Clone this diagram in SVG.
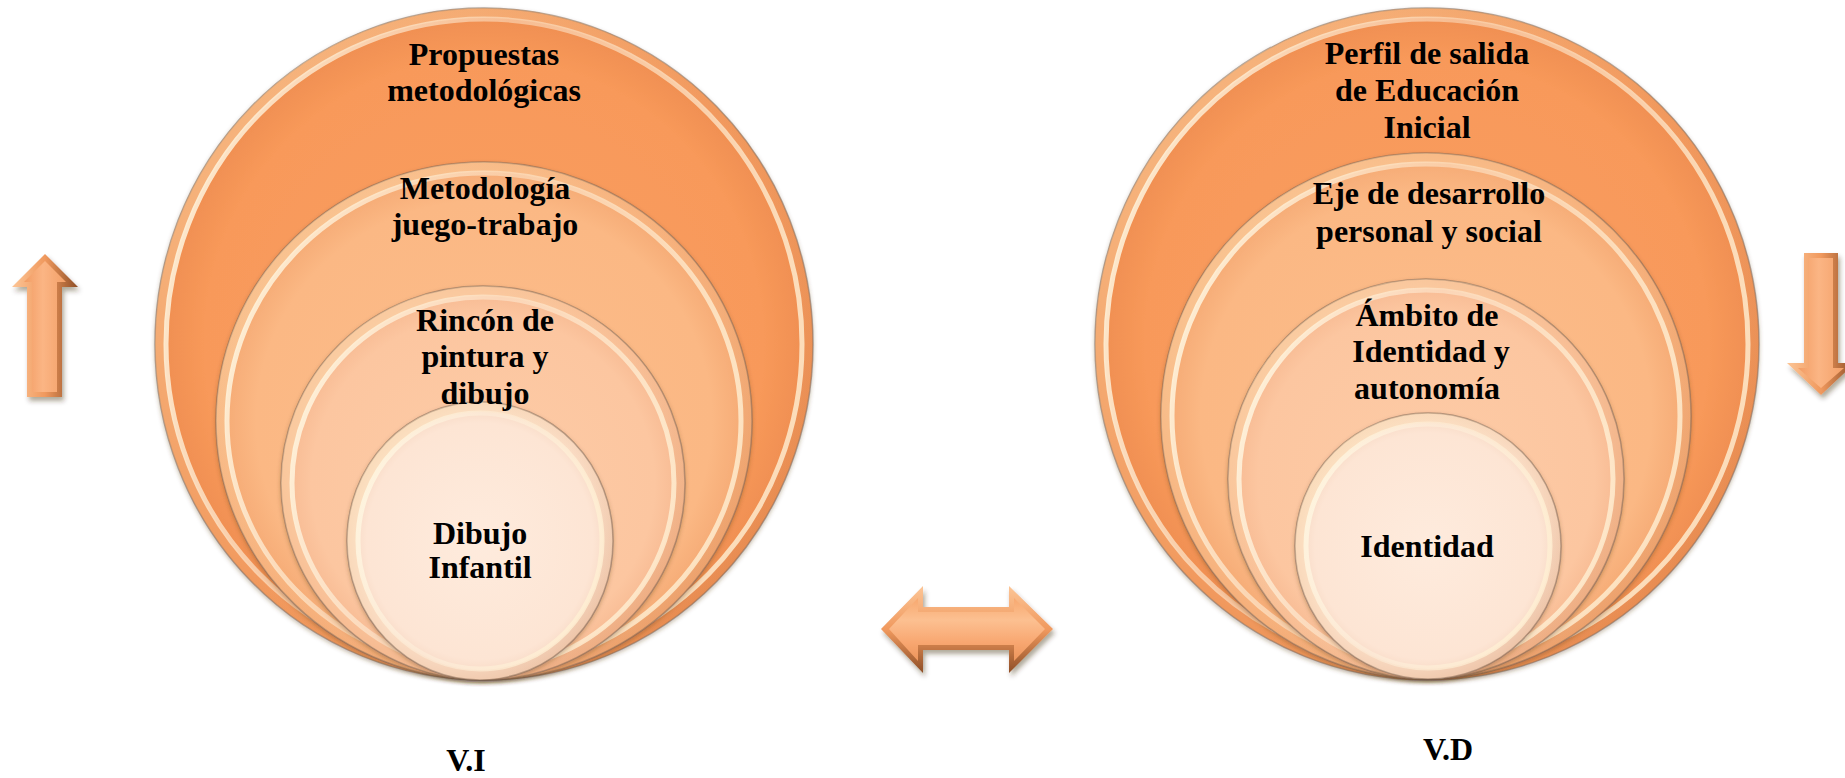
<svg xmlns="http://www.w3.org/2000/svg" width="1845" height="778" viewBox="0 0 1845 778">
<style>
.t{font-family:"Liberation Serif","Times New Roman",serif;font-weight:bold;font-size:32px;fill:#000;text-anchor:middle}
.edge{stroke:#7a6455;stroke-opacity:.55;stroke-width:1.5}
.ring{fill:none;stroke:url(#ringG);stroke-width:5}
.rim{fill:none;stroke:url(#rimG);stroke-width:10}
</style>
<defs>
<radialGradient id="g1" cx="50%" cy="50%" r="50%"><stop offset="0" stop-color="#F99E60"/><stop offset="0.85" stop-color="#F8995A"/><stop offset="1" stop-color="#EE8D50"/></radialGradient>
<radialGradient id="g2" cx="50%" cy="50%" r="50%"><stop offset="0" stop-color="#FCBC8A"/><stop offset="0.85" stop-color="#FBB884"/><stop offset="1" stop-color="#F4A872"/></radialGradient>
<radialGradient id="g3" cx="50%" cy="50%" r="50%"><stop offset="0" stop-color="#FDCBA6"/><stop offset="0.85" stop-color="#FCC6A0"/><stop offset="1" stop-color="#F6B890"/></radialGradient>
<radialGradient id="g4" cx="50%" cy="50%" r="50%"><stop offset="0" stop-color="#FEEBDD"/><stop offset="0.85" stop-color="#FDE5D4"/><stop offset="1" stop-color="#F6D6C0"/></radialGradient>
<linearGradient id="ringG" x1="0" y1="0" x2="1" y2="0.3"><stop offset="0" stop-color="#FFF8E2" stop-opacity="0.95"/><stop offset="0.5" stop-color="#FFF3DF" stop-opacity="0.45"/><stop offset="1" stop-color="#FFF0D4" stop-opacity="0.8"/></linearGradient>
<linearGradient id="rimG" x1="0" y1="0" x2="1" y2="1"><stop offset="0" stop-color="#FFE6B8" stop-opacity="0.55"/><stop offset="0.5" stop-color="#FFD9A8" stop-opacity="0.15"/><stop offset="1" stop-color="#C06A38" stop-opacity="0.25"/></linearGradient>
<filter id="sh" x="-10%" y="-10%" width="120%" height="125%"><feDropShadow dx="0" dy="2" stdDeviation="2" flood-color="#5a3a20" flood-opacity="0.35"/></filter>
<filter id="ash" x="-30%" y="-30%" width="160%" height="160%"><feDropShadow dx="2" dy="4" stdDeviation="2.5" flood-color="#3a2410" flood-opacity="0.4"/></filter>
<linearGradient id="aV" x1="0" y1="0" x2="1" y2="0"><stop offset="0" stop-color="#FCC596"/><stop offset="0.5" stop-color="#F0995E"/><stop offset="1" stop-color="#8E4E26"/></linearGradient>
<linearGradient id="aVi" x1="0" y1="0" x2="1" y2="0"><stop offset="0" stop-color="#F29C63"/><stop offset="0.45" stop-color="#FBB584"/><stop offset="1" stop-color="#F3A068"/></linearGradient>
<linearGradient id="aH" x1="0" y1="0" x2="0" y2="1"><stop offset="0" stop-color="#FCC596"/><stop offset="0.5" stop-color="#F0995E"/><stop offset="1" stop-color="#8E4E26"/></linearGradient>
<linearGradient id="aHi" x1="0" y1="0" x2="0" y2="1"><stop offset="0" stop-color="#F7A86F"/><stop offset="0.35" stop-color="#FCC091"/><stop offset="0.7" stop-color="#F8A771"/><stop offset="1" stop-color="#EC955C"/></linearGradient>
</defs>

<g id="vi-propuestas">
<ellipse cx="484" cy="344" rx="329" ry="336" fill="url(#g1)" class="edge" filter="url(#sh)"/>
<ellipse class="rim" cx="484" cy="344" rx="324" ry="331"/>
<ellipse class="ring" cx="484" cy="344" rx="318" ry="325"/>
<g id="vi-metodologia">
<ellipse cx="484" cy="421" rx="268" ry="259" fill="url(#g2)" class="edge" filter="url(#sh)"/>
<ellipse class="rim" cx="484" cy="421" rx="263" ry="254"/>
<ellipse class="ring" cx="484" cy="421" rx="257" ry="248"/>
<g id="vi-rincon">
<ellipse cx="483" cy="483" rx="202" ry="197" fill="url(#g3)" class="edge" filter="url(#sh)"/>
<ellipse class="rim" cx="483" cy="483" rx="197" ry="192"/>
<ellipse class="ring" cx="483" cy="483" rx="191" ry="186"/>
<g id="vi-dibujo">
<ellipse cx="480" cy="541" rx="133" ry="139" fill="url(#g4)" class="edge" filter="url(#sh)"/>
<ellipse class="rim" cx="480" cy="541" rx="128" ry="134"/>
<ellipse class="ring" cx="480" cy="541" rx="122" ry="128"/>
<text class="t" x="480" y="544">Dibujo</text>
<text class="t" x="480" y="578">Infantil</text>
</g>
<text class="t" x="485" y="331">Rincón de</text>
<text class="t" x="485" y="367">pintura y</text>
<text class="t" x="485" y="404">dibujo</text>
</g>
<text class="t" x="485" y="199">Metodología</text>
<text class="t" x="485" y="235">juego-trabajo</text>
</g>
<text class="t" x="484" y="65">Propuestas</text>
<text class="t" x="484" y="101">metodológicas</text>
</g>

<g id="vd-perfil">
<ellipse cx="1427" cy="344" rx="332" ry="336" fill="url(#g1)" class="edge" filter="url(#sh)"/>
<ellipse class="rim" cx="1427" cy="344" rx="327" ry="331"/>
<ellipse class="ring" cx="1427" cy="344" rx="321" ry="325"/>
<g id="vd-eje">
<ellipse cx="1426" cy="416" rx="265" ry="263" fill="url(#g2)" class="edge" filter="url(#sh)"/>
<ellipse class="rim" cx="1426" cy="416" rx="260" ry="258"/>
<ellipse class="ring" cx="1426" cy="416" rx="254" ry="252"/>
<g id="vd-ambito">
<ellipse cx="1426" cy="479" rx="198" ry="200" fill="url(#g3)" class="edge" filter="url(#sh)"/>
<ellipse class="rim" cx="1426" cy="479" rx="193" ry="195"/>
<ellipse class="ring" cx="1426" cy="479" rx="187" ry="189"/>
<g id="vd-identidad">
<ellipse cx="1428" cy="546" rx="133" ry="133" fill="url(#g4)" class="edge" filter="url(#sh)"/>
<ellipse class="rim" cx="1428" cy="546" rx="128" ry="128"/>
<ellipse class="ring" cx="1428" cy="546" rx="122" ry="122"/>
<text class="t" x="1427" y="557">Identidad</text>
</g>
<text class="t" x="1427" y="326">Ámbito de</text>
<text class="t" x="1431" y="362">Identidad y</text>
<text class="t" x="1427" y="399">autonomía</text>
</g>
<text class="t" x="1429" y="204">Eje de desarrollo</text>
<text class="t" x="1429" y="242">personal y social</text>
</g>
<text class="t" x="1427" y="64">Perfil de salida</text>
<text class="t" x="1427" y="101">de Educación</text>
<text class="t" x="1427" y="138">Inicial</text>
</g>

<g id="labels">
<text class="t" x="466" y="771" font-size="31">V.I</text>
<text class="t" x="1448" y="760" font-size="31">V.D</text>
</g>

<g id="connectors">
<g id="arrow-up" filter="url(#ash)">
<polygon points="45,254 78,287 62,287 62,397 27,397 27,287 12,287" fill="url(#aV)"/>
<polygon points="45,261 66,282 57,282 57,392 32,392 32,282 24,282" fill="url(#aVi)"/>
</g>
<g id="arrow-both" filter="url(#ash)">
<polygon points="881,629 923,586 923,607 1009,607 1009,586 1053,629 1009,673 1009,650 923,650 923,673" fill="url(#aH)"/>
<polygon points="889,629 918,598 918,612 1014,612 1014,598 1045,629 1014,661 1014,645 918,645 918,661" fill="url(#aHi)"/>
</g>
<g id="arrow-down" filter="url(#ash)">
<polygon points="1804,253 1838,253 1838,363 1855,363 1821,395 1787,363 1804,363" fill="url(#aV)"/>
<polygon points="1809,258 1833,258 1833,368 1844,368 1821,388 1798,368 1809,368" fill="url(#aVi)"/>
</g>
</g>
</svg>
